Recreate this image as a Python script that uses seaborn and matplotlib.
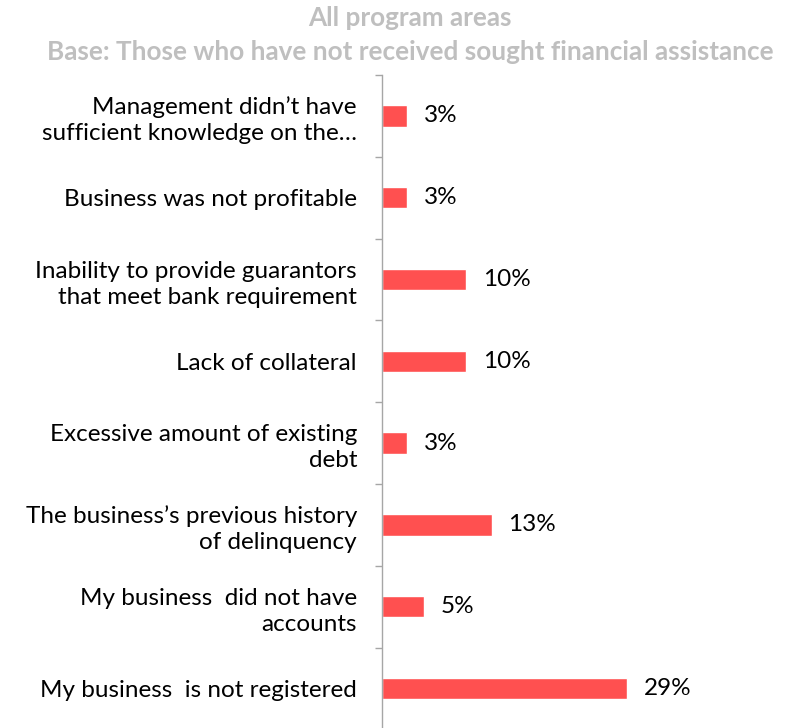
import matplotlib
matplotlib.use("Agg")
import matplotlib.pyplot as plt
from matplotlib.ticker import FixedLocator
import seaborn as sns
import pandas as pd

categories = [
    "Management didn\u2019t have\nsufficient knowledge on the\u2026",
    "Business was not profitable",
    "Inability to provide guarantors\nthat meet bank requirement",
    "Lack of collateral",
    "Excessive amount of existing\ndebt",
    "The business\u2019s previous history\nof delinquency",
    "My business  did not have\naccounts",
    "My business  is not registered",
]
values = [3, 3, 10, 10, 3, 13, 5, 29]
title_lines = ["All program areas",
               "Base: Those who have not received sought financial assistance"]

sns.set_theme(style="white")
plt.rcParams["font.family"] = ["Lato", "DejaVu Sans"]

df = pd.DataFrame({"reason": categories, "pct": values})

fig = plt.figure(figsize=(7.91, 7.28), dpi=100)
ax = fig.add_axes([382 / 791, -0.002, 0.47, 1 - 75 / 728 + 0.002])

sns.barplot(data=df, y="reason", x="pct", orient="h", color="#FF5050",
            saturation=1, width=0.26, ax=ax)

ax.set_xlim(0, 44)
ax.set_ylim(len(categories) - 0.5, -0.5)
ax.set_xlabel("")
ax.set_ylabel("")
ax.set_xticks([])

for s in ["top", "right", "bottom"]:
    ax.spines[s].set_visible(False)
ax.spines["left"].set_color("#A6A6A6")
ax.spines["left"].set_linewidth(1.0)

ax.tick_params(axis="y", which="major", length=0, pad=18,
               labelsize=17.5, labelcolor="#000000")
ax.yaxis.set_minor_locator(FixedLocator([i - 0.5 for i in range(len(categories) + 1)]))
ax.tick_params(axis="y", which="minor", left=True, length=5,
               width=1.0, color="#A6A6A6", direction="out")
for lbl in ax.get_yticklabels():
    lbl.set_horizontalalignment("right")
    lbl.set_multialignment("right")
    lbl.set_linespacing(1.3)

ax.bar_label(ax.containers[0], labels=[f"{v}%" for v in values],
             padding=12, fontsize=17.5, color="#000000")

fig.text(410 / 791, 1 - 18 / 728, title_lines[0], ha="center", va="center",
         fontsize=18.8, fontweight="bold", color="#BFBFBF")
fig.text(410 / 791, 1 - 52 / 728, title_lines[1], ha="center", va="center",
         fontsize=18.8, fontweight="bold", color="#BFBFBF")

fig.savefig("out.png", dpi=100)
